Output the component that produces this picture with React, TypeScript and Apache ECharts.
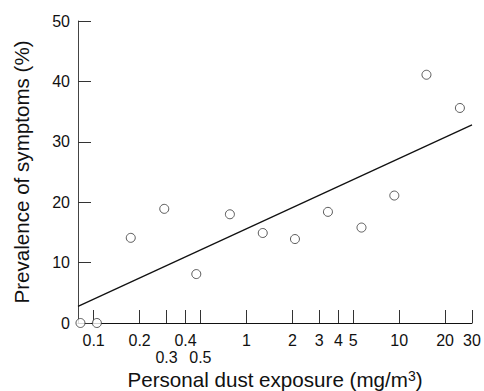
import React, { useEffect, useRef } from "react";
import * as echarts from "echarts";

// Scatter points (personal dust exposure mg/m3, prevalence %)
const exposure = [0.082, 0.105, 0.175, 0.29, 0.47, 0.78, 1.28, 2.08, 3.42, 5.67, 9.3, 15.1, 25.0];
const prevalence = [0, 0, 14.1, 18.9, 8.1, 18.0, 14.9, 13.9, 18.4, 15.8, 21.1, 41.1, 35.6];

// Regression line end points
const fitX = [0.079, 30];
const fitY = [2.75, 32.8];

// Axis ticks
const xTickValues = [0.1, 0.2, 0.3, 0.4, 0.5, 1, 2, 3, 4, 5, 10, 20, 30];
const xTickLabels = ["0.1", "0.2", "0.3", "0.4", "0.5", "1", "2", "3", "4", "5", "10", "20", "30"];
const xLowerRowLabels = ["0.3", "0.5"];
const xMin = 0.079;
const xMax = 30;
const yMin = 0;
const yMax = 50;
const yInterval = 10;

const FONT = "'Liberation Sans', Arial, Helvetica, sans-serif";

export default function App() {
  const ref = useRef<HTMLDivElement>(null);
  useEffect(() => {
    if (!ref.current) return;
    const chart = echarts.init(ref.current, undefined, { renderer: "svg" });
    const lg = (v: number) => Math.log10(v);
    const tickLogs = xTickValues.map(lg);
    chart.setOption({
      animation: false,
      backgroundColor: "#ffffff",
      grid: { left: 78, top: 21, right: 12, bottom: 68, containLabel: false, outerBoundsMode: "none" },
      xAxis: {
        type: "value",
        min: lg(xMin),
        max: lg(xMax),
        splitLine: { show: false },
        axisLine: { show: true, onZero: false, lineStyle: { color: "#111", width: 1 } },
        axisTick: {
          show: true,
          inside: true,
          length: 13,
          customValues: tickLogs,
          lineStyle: { color: "#333", width: 1 },
        },
        axisLabel: {
          customValues: tickLogs,
          margin: 9,
          color: "#111",
          fontSize: 16,
          fontFamily: FONT,
          lineHeight: 17,
          verticalAlign: "top",
          formatter: (v: number) => {
            let best = 0;
            let bd = Infinity;
            tickLogs.forEach((t, i) => {
              const d = Math.abs(t - v);
              if (d < bd) { bd = d; best = i; }
            });
            const lab = xTickLabels[best];
            return xLowerRowLabels.includes(lab) ? "\n" + lab : lab;
          },
        },
        name: "Personal dust exposure (mg/m{sup|3})",
        nameLocation: "middle",
        nameGap: 46,
        nameMoveOverlap: false,
        nameTextStyle: {
          color: "#111",
          fontSize: 20.6,
          lineHeight: 20,
          fontFamily: FONT,
          rich: {
            sup: { fontSize: 14, fontFamily: FONT, color: "#111", verticalAlign: "top", lineHeight: 12 },
          },
        },
      },
      yAxis: {
        type: "value",
        min: yMin,
        max: yMax,
        interval: yInterval,
        splitLine: { show: false },
        axisLine: { show: true, onZero: false, lineStyle: { color: "#444", width: 1 } },
        axisTick: { show: true, inside: true, length: 13, lineStyle: { color: "#333", width: 1 } },
        axisLabel: { color: "#111", fontSize: 16, fontFamily: FONT, margin: 8 },
        name: "Prevalence of symptoms (%)",
        nameLocation: "middle",
        nameGap: 46,
        nameMoveOverlap: false,
        nameTextStyle: { color: "#111", fontSize: 20.6, fontFamily: FONT },
      },
      series: [
        {
          type: "line",
          data: fitX.map((x, i) => [lg(x), fitY[i]]),
          showSymbol: false,
          symbol: "none",
          lineStyle: { color: "#111", width: 1.3 },
          z: 2,
        },
        {
          type: "scatter",
          data: exposure.map((x, i) => [lg(x), prevalence[i]]),
          symbol: "circle",
          symbolSize: 9,
          itemStyle: { color: "#ffffff", borderColor: "#333", borderWidth: 1 },
          clip: false,
          z: 3,
        },
      ],
    });
    return () => chart.dispose();
  }, []);
  return <div ref={ref} style={{ width: 484, height: 391, position: "absolute", left: 0, top: 0 }} />;
}
